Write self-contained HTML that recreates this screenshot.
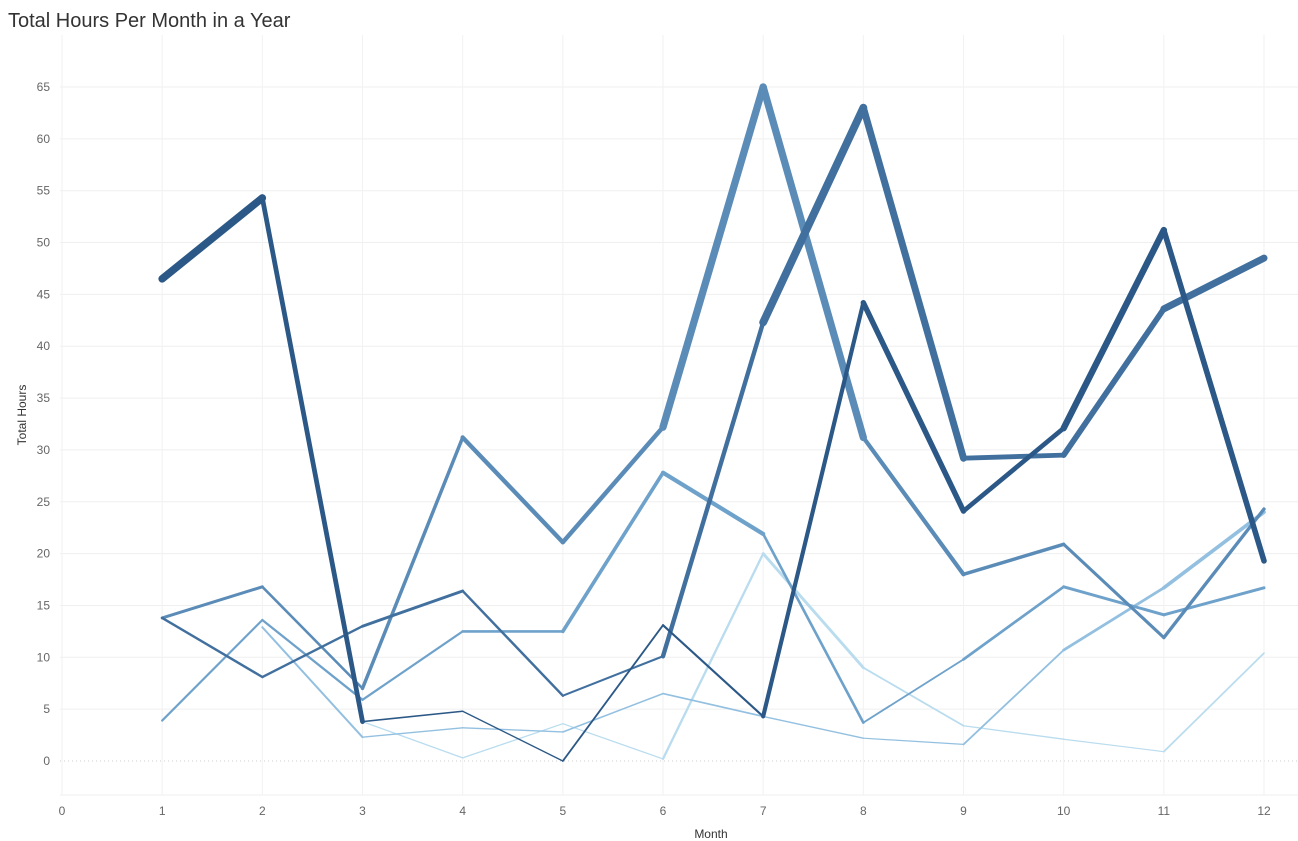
<!DOCTYPE html>
<html><head><meta charset="utf-8"><style>
body{margin:0;background:#fff;font-family:"Liberation Sans",sans-serif;}
#title{position:absolute;left:8px;top:10px;font-size:20px;color:#333;}
</style></head><body>
<div id="title">Total Hours Per Month in a Year</div>
<svg id="chart" width="1298" height="841" style="position:absolute;left:0;top:0"></svg>
<script>
const months=[1,2,3,4,5,6,7,8,9,10,11,12];
const xTicks=[0,1,2,3,4,5,6,7,8,9,10,11,12];
const yTicks=[0,5,10,15,20,25,30,35,40,45,50,55,60,65];
const seriesA=[46.5,54.3,3.8,4.8,0,13.1,4.3,44.2,24.1,32.1,51.2,19.3];
const seriesB=[13.8,8.1,13,16.4,6.3,10.1,42.3,63,29.2,29.5,43.6,48.5];
const seriesC=[13.8,16.8,7,31.2,21.1,32.2,65,31.2,18,20.9,11.9,24.3];
const seriesD=[3.9,13.6,5.9,12.5,12.5,27.8,21.9,3.7,9.8,16.8,14.1,16.7];
const seriesE=[null,12.9,2.3,3.2,2.8,6.5,4.3,2.2,1.6,10.7,16.7,24];
const seriesF=[null,null,3.8,0.3,3.6,0.2,20,9,3.4,2.1,0.9,10.4];
const seriesList=[[seriesF,'#b9dcef'],[seriesE,'#93c0e0'],[seriesD,'#6fa2cb'],[seriesC,'#5b8cb8'],[seriesB,'#41709f'],[seriesA,'#2b5886']];
const NS='http://www.w3.org/2000/svg';
const svg=document.getElementById('chart');
const x=v=>62+v*(1264-62)/12;
const y=v=>761-v*(761-87)/65;
function mk(t,a){const e=document.createElementNS(NS,t);for(const k in a)e.setAttribute(k,a[k]);svg.appendChild(e);return e;}
yTicks.forEach(t=>{
  const l=mk('line',{x1:60,x2:1298,y1:y(t),y2:y(t),stroke:t===0?'#ccc':'#efefef','stroke-dasharray':t===0?'1,3':''});
  
  
  const tx=mk('text',{x:50,y:y(t)+4,'text-anchor':'end','font-size':12,fill:'#666'});tx.textContent=t;
  
  
});
mk('line',{x1:60,x2:1298,y1:795,y2:795,stroke:'#efefef'});
xTicks.forEach(t=>{
  const l=mk('line',{x1:x(t),x2:x(t),y1:35,y2:795,stroke:'#f2f2f2'});
  
  
  const tx=mk('text',{x:x(t),y:815,'text-anchor':'middle','font-size':12,fill:'#666'});tx.textContent=t;
  
  
});
const yt=mk('text',{x:26,y:415,'text-anchor':'middle','font-size':12,fill:'#333',transform:'rotate(-90 26 415)'});yt.textContent='Total Hours';


const xt=mk('text',{x:711,y:838,'text-anchor':'middle','font-size':12,fill:'#333'});xt.textContent='Month';


seriesList.forEach(([s,c],si)=>{
  for(let i=0;i<s.length-1;i++){
    if(s[i]==null||s[i+1]==null)continue;
    const avg=(s[i]+s[i+1])/2;
    const seg=mk('line',{x1:x(months[i]),y1:y(s[i]),x2:x(months[i+1]),y2:y(s[i+1]),stroke:c,'stroke-width':1+avg*0.13,'stroke-linecap':'round'});
    
    
  }
});
</script>
</body></html>
